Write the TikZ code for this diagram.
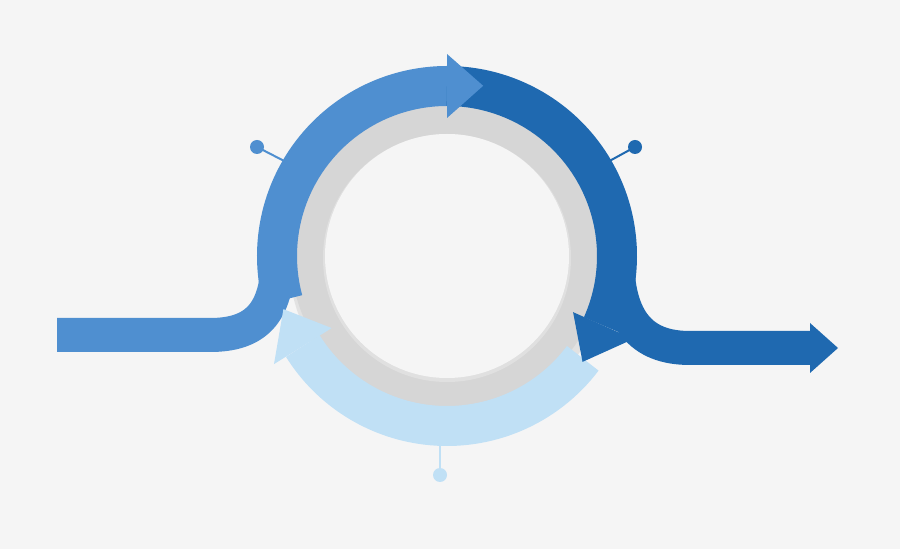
\documentclass[tikz,border=0pt]{standalone}
\usetikzlibrary{calc}
\begin{document}
\begin{tikzpicture}[x=1pt,y=1pt]
\definecolor{bg}{HTML}{F5F5F5}
\definecolor{mblue}{HTML}{4F8FD0}
\definecolor{dblue}{HTML}{1F69B0}
\definecolor{lblue}{HTML}{C0E0F5}
\definecolor{ring}{HTML}{D6D6D6}
\tikzset{band/.style={line width=40pt},pinline/.style={line width=2pt}}
\fill[bg] (0,0) rectangle (900,549);
\useasboundingbox (0,0) rectangle (900,549);
\coordinate (c) at (447,293);
% pins
\draw[pinline,mblue] (257,402) -- (290,385);
\fill[mblue] (257,402) circle (7);
\draw[pinline,dblue] (635,402) -- (604,385);
\fill[dblue] (635,402) circle (7);
\draw[pinline,lblue] (440,74) -- (440,110);
\fill[lblue] (440,74) circle (7);
% gray ring
\fill[black!18,opacity=0.5] ($(c)+(2,-4)$) circle (160);
\fill[ring] (c) circle (156);
\fill[black!12] ($(c)+(0,-2)$) circle (124);
\fill[bg] (c) circle (122);
% entry and exit
\draw[band,mblue,line width=34pt] (57,214) -- (210,214) .. controls (255,214) and (277,235) .. (278,290);
\draw[band,dblue,line width=34pt] (617,290) .. controls (618,230) and (640,201) .. (690,201) -- (812,201);
\fill[dblue] (810,226) -- (838,201) -- (810,176) -- cycle;
% medium band
\draw[band,mblue] ([shift={(195:170)}]c) arc[start angle=195,end angle=90,radius=170];
% light band + head
\draw[band,lblue] ([shift={(-37:170)}]c) arc[start angle=-37,end angle=-148,radius=170];
\fill[lblue] ([shift={(212:136)}]c) -- ([shift={(212:204)}]c) -- ([shift={(198:172)}]c) -- cycle;
% dark band + head
\draw[band,dblue] ([shift={(90:170)}]c) arc[start angle=90,end angle=-24,radius=170];
\fill[dblue] ([shift={(-24:138)}]c) -- ([shift={(-24:204)}]c) -- ([shift={(-38:172)}]c) -- cycle;
% medium head
\fill[mblue] ([shift={(90:138)}]c) -- ([shift={(90:202)}]c) -- ([shift={(78:174)}]c) -- cycle;
\end{tikzpicture}
\end{document}
